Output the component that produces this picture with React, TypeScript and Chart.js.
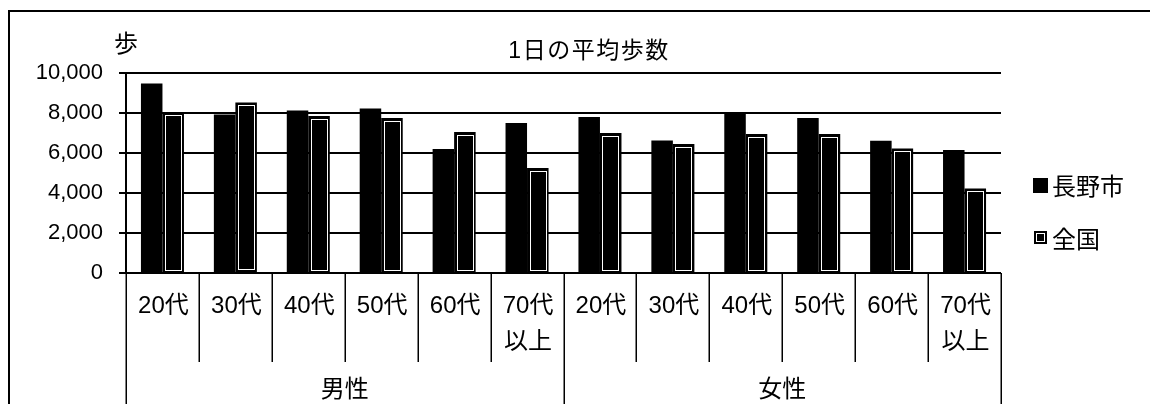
import React, { useEffect, useRef } from "react";
import { Chart, registerables } from "chart.js";

Chart.register(...registerables);

// Age brackets, shown once for men and once for women
const categories: string[][] = [
  ["20代"], ["30代"], ["40代"], ["50代"], ["60代"], ["70代", "以上"],
  ["20代"], ["30代"], ["40代"], ["50代"], ["60代"], ["70代", "以上"],
];
const groups = ["男性", "女性"];
const seriesNames = ["長野市", "全国"];

// Average steps per day
const naganoSteps = [9470, 7920, 8120, 8220, 6200, 7500, 7800, 6630, 7970, 7750, 6610, 6150];
const nationalSteps = [8050, 8520, 7850, 7750, 7050, 5250, 7000, 6450, 6950, 6950, 6230, 4230];

const yTicks = [0, 2000, 4000, 6000, 8000, 10000];

const TITLE = "1日の平均歩数";
const Y_UNIT = "歩";

const FONT = "'Liberation Sans', 'Noto Sans CJK JP', sans-serif";
const CJK = "'Noto Sans CJK JP', 'Liberation Sans', sans-serif";

const W = 1150;
const H = 404;

// Draws the frame, title, unit label, two-level category axis and legend.
const decorations = {
  id: "decorations",
  afterDatasetsDraw(chart: any) {
    // white inner outline on the national bars
    const ctx = chart.ctx;
    const meta = chart.getDatasetMeta(1);
    ctx.save();
    ctx.strokeStyle = "#fff";
    ctx.lineWidth = 1;
    meta.data.forEach((el: any) => {
      const { x, y, base, width } = el.getProps(["x", "y", "base", "width"], true);
      const l = x - width / 2 + 2.5;
      const r = x + width / 2 - 2.5;
      const t = y + 2.5;
      const b = base - 2.5;
      ctx.strokeRect(Math.round(l) + 0.5, Math.round(t) + 0.5, Math.round(r - l) - 1, Math.round(b - t));
    });
    ctx.restore();
  },
  afterDraw(chart: any) {
    const ctx = chart.ctx;
    const xs = chart.scales.x;
    const ys = chart.scales.y;
    ctx.save();
    ctx.fillStyle = "#000";
    ctx.strokeStyle = "#000";

    // outer frame (left and top)
    ctx.lineWidth = 2;
    ctx.beginPath();
    ctx.moveTo(9, H);
    ctx.lineTo(9, 11);
    ctx.lineTo(W, 11);
    ctx.stroke();

    // title and unit label
    ctx.textAlign = "center";
    ctx.textBaseline = "middle";
    ctx.font = `23px ${FONT}`;
    (ctx as any).letterSpacing = "1.5px";
    ctx.fillText(TITLE, 589, 52);
    (ctx as any).letterSpacing = "0px";
    ctx.font = `24px ${CJK}`;
    ctx.fillText(Y_UNIT, 126, 43);

    // category separators and labels
    const step = xs.getPixelForValue(1) - xs.getPixelForValue(0);
    const bottom = ys.getPixelForValue(0);
    ctx.lineWidth = 1.5;
    for (let i = 0; i <= categories.length; i++) {
      const bx = Math.round(xs.getPixelForValue(0) - step / 2 + i * step) + 0.25;
      ctx.beginPath();
      ctx.moveTo(bx, bottom);
      ctx.lineTo(bx, i % 6 === 0 ? H : 362);
      ctx.stroke();
    }
    ctx.font = `24px ${FONT}`;
    categories.forEach((lines, i) => {
      const cx = xs.getPixelForValue(i);
      lines.forEach((t, j) => ctx.fillText(t, cx + 1, 306 + j * 36));
    });
    const per = categories.length / groups.length;
    ctx.font = `24px ${CJK}`;
    groups.forEach((g, k) => {
      const a = xs.getPixelForValue(k * per);
      const b = xs.getPixelForValue((k + 1) * per - 1);
      ctx.fillText(g, (a + b) / 2, 388);
    });

    // legend
    ctx.textAlign = "left";
    ctx.font = `24px ${CJK}`;
    ctx.fillRect(1033, 178, 15, 15);
    ctx.fillText(seriesNames[0], 1052, 186);
    ctx.fillRect(1034, 231, 13, 13);
    ctx.strokeStyle = "#fff";
    ctx.lineWidth = 1;
    ctx.strokeRect(1036.5, 233.5, 8, 8);
    ctx.fillText(seriesNames[1], 1052, 239);
    ctx.restore();
  },
};

export default function App() {
  const ref = useRef<HTMLCanvasElement | null>(null);

  useEffect(() => {
    if (!ref.current) return;
    const chart = new Chart(ref.current, {
      type: "bar",
      data: {
        labels: categories.map((c) => c.join("")),
        datasets: [
          {
            label: seriesNames[0],
            data: naganoSteps,
            backgroundColor: "#000",
            borderWidth: 0,
            categoryPercentage: 0.59,
            barPercentage: 1,
          },
          {
            label: seriesNames[1],
            data: nationalSteps,
            backgroundColor: "#000",
            borderWidth: 0,
            categoryPercentage: 0.59,
            barPercentage: 1,
          },
        ],
      },
      options: {
        responsive: false,
        animation: false,
        devicePixelRatio: 1,
        layout: { padding: { left: 0, right: W - 1001, top: 73, bottom: 0 } },
        plugins: {
          legend: { display: false },
          title: { display: false },
          tooltip: { enabled: false },
        },
        scales: {
          x: {
            ticks: { display: false },
            grid: { display: false },
            border: { display: false },
            afterFit: (s: any) => {
              s.height = H - 273;
            },
          },
          y: {
            min: 0,
            max: 10000,
            afterBuildTicks: (s: any) => {
              s.ticks = yTicks.map((v) => ({ value: v }));
            },
            ticks: {
              color: "#000",
              padding: 16,
              font: { family: FONT, size: 22 },
              callback: (v: any) => Number(v).toLocaleString("en-US"),
            },
            grid: { color: "#000", lineWidth: 2, tickLength: 7 },
            border: { display: true, color: "#000", width: 2 },
            afterFit: (s: any) => {
              s.width = 126;
            },
          },
        },
      },
      plugins: [decorations],
    });
    return () => chart.destroy();
  }, []);

  return (
    <div style={{ position: "fixed", left: 0, top: 0, width: W, height: H, background: "#fff" }}>
      <canvas ref={ref} width={W} height={H} style={{ display: "block", width: W, height: H }} />
    </div>
  );
}
